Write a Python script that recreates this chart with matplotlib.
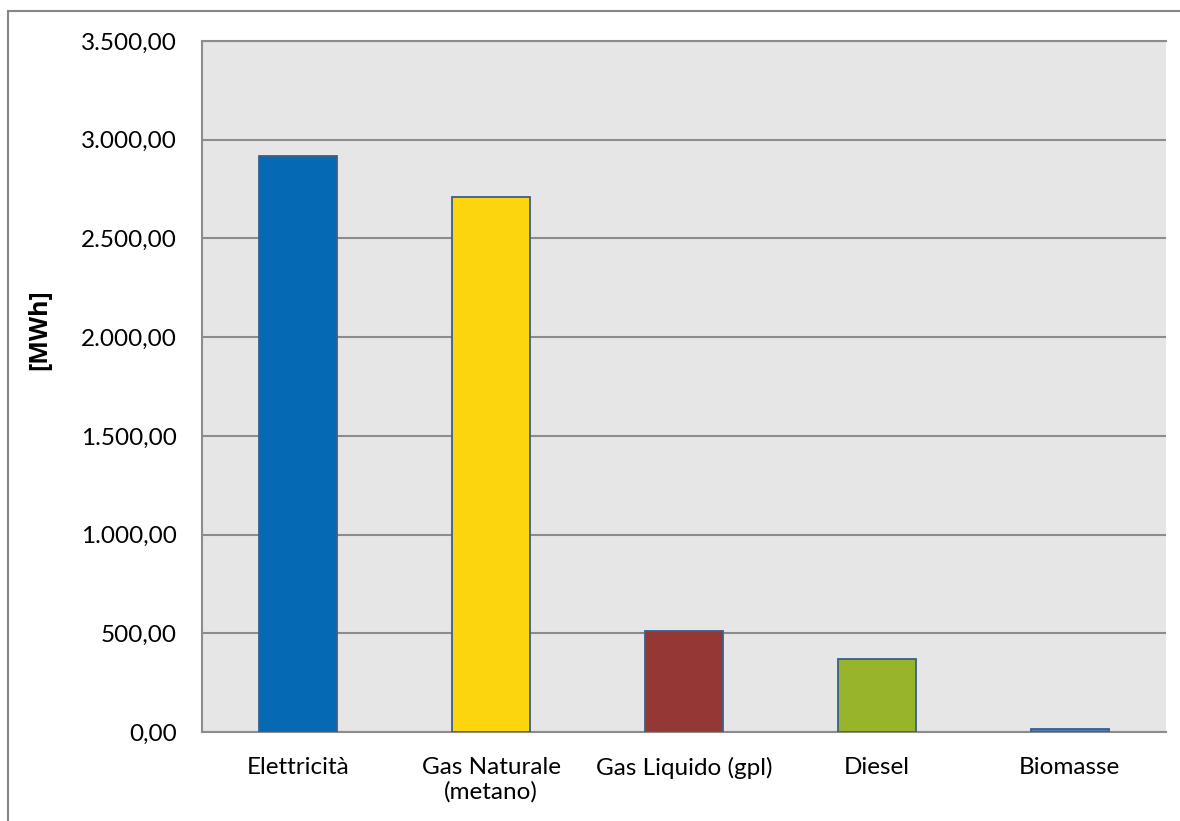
import matplotlib
matplotlib.use("Agg")
import matplotlib.pyplot as plt
from matplotlib.ticker import FuncFormatter, MultipleLocator
from matplotlib.patches import Rectangle

categories = ["Elettricità", "Gas Naturale\n(metano)", "Gas Liquido (gpl)", "Diesel", "Biomasse"]
values = [2915, 2708, 512, 370, 15]
colors = ["#0569B3", "#FDD50E", "#953735", "#98B42A", "#4F81BD"]
y_label = "[MWh]"

plt.rcParams['font.family'] = ['Lato', 'DejaVu Sans']

fig = plt.figure(figsize=(11.8, 8.21), dpi=100)
W, H = 1180, 821
ax = fig.add_axes([202 / W, (821 - 732) / H, (1166 - 202) / W, (732 - 41) / H])

# outer chart border
fig.patches.append(Rectangle((8 / W, -0.1), 1.2, (821 - 11) / H + 0.1, transform=fig.transFigure,
                             fill=False, edgecolor="#868686", linewidth=1.5, zorder=0))

ax.set_facecolor("#E6E6E6")
x = range(len(categories))
ax.bar(x, values, width=0.405, color=colors, edgecolor="#3A5F8C", linewidth=1.3, zorder=3)

ax.set_xlim(-0.5, len(categories) - 0.5)
ax.set_ylim(0, 3500)
ax.yaxis.set_major_locator(MultipleLocator(500))

def it_fmt(v, pos):
    s = f"{v:,.2f}"
    return s.replace(",", "X").replace(".", ",").replace("X", ".")

ax.yaxis.set_major_formatter(FuncFormatter(it_fmt))
ax.set_xticks(list(x))
ax.set_xticklabels(categories, fontsize=17.5, color="#000000", linespacing=1.2)
ax.tick_params(axis="y", length=0, pad=18, labelsize=17.5)
ax.tick_params(axis="x", length=0, pad=18)
ax.grid(axis="y", color="#8C8C8C", linewidth=1.5, zorder=1)
ax.set_axisbelow(True)

ax.spines["right"].set_visible(False)
for s in ["left", "bottom", "top"]:
    ax.spines[s].set_color("#8C8C8C")
    ax.spines[s].set_linewidth(1.5)

ax.set_ylabel(y_label, fontsize=18, fontweight="bold", family=["Open Sans", "DejaVu Sans"],
              va="center")
ax.yaxis.set_label_coords(-(202 - 40) / (1166 - 202), (732 - 330) / (732 - 41))

fig.savefig("out.png", dpi=100)
